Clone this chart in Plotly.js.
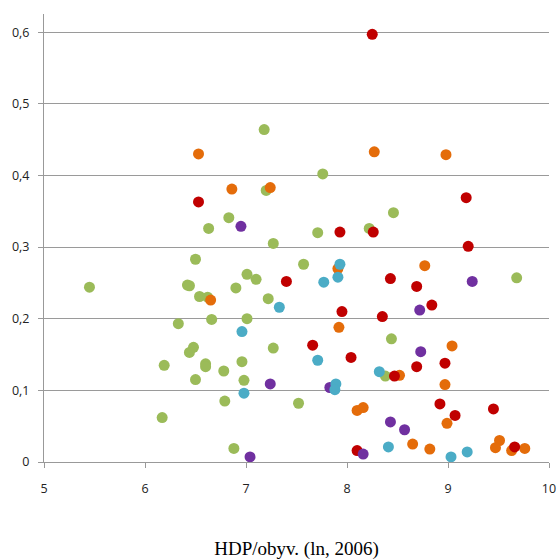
<!DOCTYPE html>
<html><head><meta charset="utf-8">
<script src="https://cdn.plot.ly/plotly-3.0.1.min.js"></script>
<style>html,body{margin:0;padding:0;background:#fff;}#chart{width:560px;height:560px;}</style>
</head><body><div id="chart"></div>
<script>
const greenX = [7.18,7.20,6.83,6.63,7.27,7.76,8.46,7.71,8.22,5.45,6.50,6.42,6.44,6.54,6.62,7.01,7.10,6.90,7.22,6.33,6.66,7.01,6.48,6.44,7.27,6.19,6.60,6.60,6.78,6.96,6.50,6.98,6.79,6.17,6.88,7.57,9.68,8.44,8.38,7.52];
const greenY = [0.464,0.379,0.341,0.326,0.305,0.402,0.348,0.320,0.326,0.244,0.283,0.247,0.246,0.231,0.230,0.262,0.255,0.243,0.228,0.193,0.199,0.200,0.160,0.153,0.159,0.135,0.137,0.133,0.127,0.140,0.115,0.114,0.085,0.062,0.019,0.276,0.257,0.172,0.120,0.082];
const orangeX = [6.53,6.86,7.24,8.27,8.98,6.65,7.91,8.77,7.92,9.04,8.52,8.97,8.10,8.16,8.99,8.65,8.82,9.51,9.47,9.63,9.76];
const orangeY = [0.430,0.381,0.383,0.433,0.429,0.226,0.270,0.274,0.188,0.162,0.121,0.108,0.072,0.076,0.054,0.025,0.018,0.030,0.020,0.016,0.019];
const redX = [6.53,8.25,9.18,7.93,8.26,9.20,7.40,8.43,8.69,8.84,7.95,8.35,7.66,8.04,8.69,8.97,8.47,8.92,9.07,9.45,8.10,9.66];
const redY = [0.363,0.597,0.369,0.321,0.321,0.301,0.252,0.256,0.245,0.219,0.210,0.203,0.163,0.146,0.133,0.138,0.120,0.081,0.065,0.074,0.016,0.021];
const purpleX = [6.95,7.24,7.04,9.24,8.72,8.73,7.83,8.43,8.57,8.16];
const purpleY = [0.329,0.109,0.007,0.252,0.212,0.154,0.104,0.056,0.045,0.011];
const blueX = [7.33,6.96,6.98,7.93,7.91,7.77,7.71,8.32,7.89,7.88,8.41,9.03,9.19];
const blueY = [0.216,0.182,0.096,0.276,0.258,0.251,0.142,0.126,0.109,0.101,0.021,0.007,0.014];
const yTickVals = [0,0.1,0.2,0.3,0.4,0.5,0.6];
const yTickText = ["0","0,1","0,2","0,3","0,4","0,5","0,6"];
const xTitle = "HDP/obyv. (ln, 2006)";

function tr(x,y,c){return {x:x,y:y,type:'scatter',mode:'markers',marker:{color:c,size:11,line:{width:0}},hoverinfo:'skip',showlegend:false,cliponaxis:false};}
const data = [
  tr(greenX,greenY,'#9BBB59'),
  tr(orangeX,orangeY,'#E46C0A'),
  tr(redX,redY,'#C00000'),
  tr(purpleX,purpleY,'#7030A0'),
  tr(blueX,blueY,'#4BACC6')
];
const layout = {
  width:560,height:560,
  margin:{l:44,r:11,t:14,b:98},
  paper_bgcolor:'#fff',plot_bgcolor:'#fff',
  font:{family:'"Open Sans", sans-serif',size:12,color:'#222'},
  xaxis:{range:[5,10],tickvals:[5,6,7,8,9,10],ticks:'outside',ticklen:5,tickcolor:'#999',
    ticklabelstandoff:10,
    showgrid:false,zeroline:false,showline:true,linecolor:'#999',linewidth:1,
    tickfont:{size:12.5,color:'#222'},
    title:{text:xTitle,font:{family:'"Liberation Serif", serif',size:19,color:'#000'},standoff:48}},
  yaxis:{range:[0,0.6253],tickvals:yTickVals,ticktext:yTickText,ticks:'outside',ticklen:5,tickcolor:'#999',
    ticklabelstandoff:6,
    showgrid:true,gridcolor:'#9a9a9a',gridwidth:1,zeroline:false,showline:true,linecolor:'#999',linewidth:1,
    tickfont:{size:12.5,color:'#222'}}
};
Plotly.newPlot('chart',data,layout,{staticPlot:true,displayModeBar:false});
</script></body></html>
